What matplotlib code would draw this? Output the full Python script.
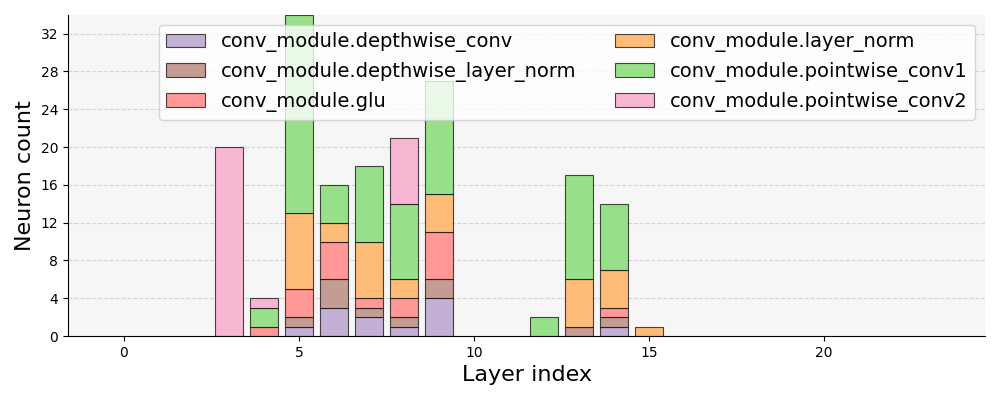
import numpy as np
import matplotlib
matplotlib.use('Agg')
import matplotlib.pyplot as plt
from matplotlib.ticker import MultipleLocator

layers = list(range(24))
# counts per module, layers 0..23
depthwise_conv       = [0,0,0,0,0,1,3,2,1,4,0,0,0,0,1,0,0,0,0,0,0,0,0,0]
depthwise_layer_norm = [0,0,0,0,0,1,3,1,1,2,0,0,0,1,1,0,0,0,0,0,0,0,0,0]
glu                  = [0,0,0,0,1,3,4,1,2,5,0,0,0,0,1,0,0,0,0,0,0,0,0,0]
layer_norm           = [0,0,0,0,0,8,2,6,2,4,0,0,0,5,4,1,0,0,0,0,0,0,0,0]
pointwise_conv1      = [0,0,0,0,2,21,4,8,8,12,0,0,2,11,7,0,0,0,0,0,0,0,0,0]
pointwise_conv2      = [0,0,0,20,1,0,0,0,7,0,0,0,0,0,0,0,0,0,0,0,0,0,0,0]

names = ['conv_module.depthwise_conv', 'conv_module.depthwise_layer_norm',
         'conv_module.glu', 'conv_module.layer_norm',
         'conv_module.pointwise_conv1', 'conv_module.pointwise_conv2']
series = [depthwise_conv, depthwise_layer_norm, glu, layer_norm,
          pointwise_conv1, pointwise_conv2]
colors = ['#c5b0d5', '#c49c94', '#ff9896', '#ffbb78', '#98df8a', '#f7b6d2']

fig, ax = plt.subplots(figsize=(10, 4), dpi=100)
ax.set_facecolor('#f6f6f6')

x = np.array(layers)
bottom = np.zeros(len(layers))
for name, vals, col in zip(names, series, colors):
    vals = np.array(vals)
    nz = vals > 0  # skip empty segments
    ax.bar(x[nz], vals[nz], bottom=bottom[nz], color=col,
           edgecolor=(0, 0, 0, 0.7), linewidth=0.8, label=name, width=0.8)
    bottom += vals

ax.set_xlim(-1.59, 24.59)
ax.set_ylim(0, bottom.max())
ax.yaxis.set_major_locator(MultipleLocator(4))
ax.grid(axis='y', linestyle='--', color='#d3d3d3', linewidth=0.8)
ax.set_axisbelow(True)
ax.spines['top'].set_visible(False)
ax.spines['right'].set_visible(False)
ax.set_xlabel('Layer index', fontsize=16)
ax.set_ylabel('Neuron count', fontsize=16)
ax.legend(loc='upper right', ncol=2, fontsize=14)

fig.subplots_adjust(left=0.068, right=0.985, top=0.963, bottom=0.16)
fig.savefig('out.png')
